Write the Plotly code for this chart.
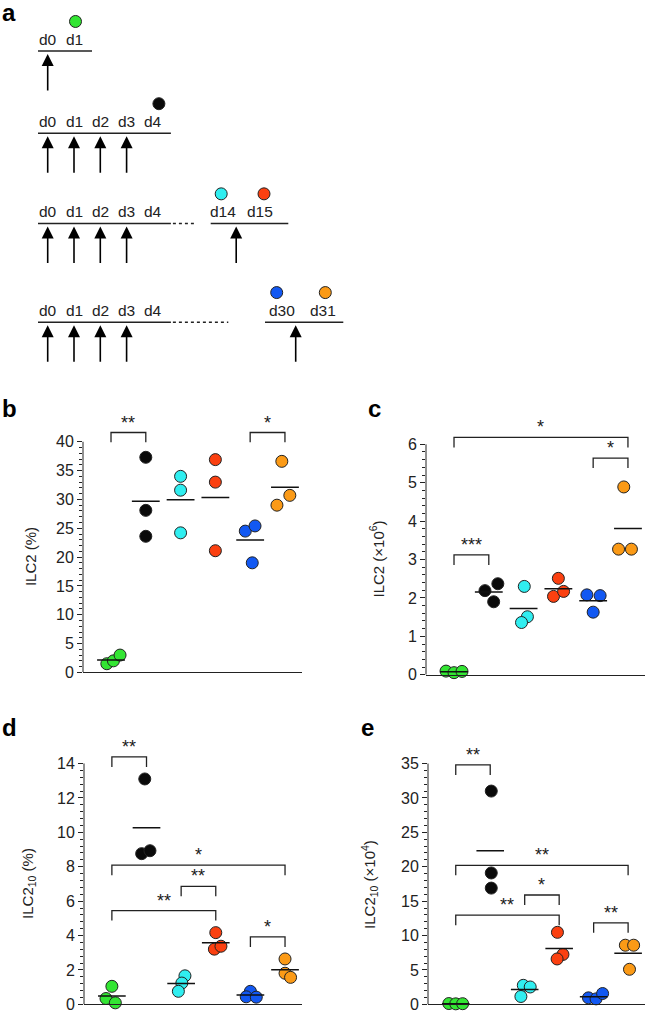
import numpy as np
import plotly.graph_objects as go

W, H = 646, 1020
FONT = "Liberation Sans, Arial, Helvetica, sans-serif"
INK = "#222222"

# ---------------- data ----------------
GROUP_NAMES = ["d1", "d4", "d14", "d15", "d30", "d31"]
GROUP_COLORS = ["#33e533", "#0a0a0a", "#30eef0", "#fb4010", "#1258f2", "#fb9a16"]

# panel b : ILC2 (%)
B_VALUES = [[1.5, 2.0, 3.0], [37.3, 28.1, 23.6], [34.0, 31.6, 24.2],
            [36.9, 33.0, 21.1], [24.5, 25.4, 19.0], [36.6, 29.0, 30.7]]
B_JITTER = [[-0.12, 0.07, 0.26], [0, 0, 0], [0, 0, 0],
            [0, 0, 0], [-0.14, 0.14, 0.06], [-0.09, -0.23, 0.14]]
B_BRACKETS = [(0, 1, 41.6, "**"), (4, 5, 41.6, "*")]

# panel c : ILC2 (x10^6)
C_VALUES = [[0.095, 0.054, 0.087], [2.19, 2.37, 1.90], [2.30, 1.51, 1.36],
            [2.51, 2.04, 2.17], [2.08, 2.06, 1.63], [4.89, 3.27, 3.27]]
C_JITTER = [[-0.23, 0, 0.23], [-0.11, 0.26, 0.14], [0.02, 0.11, -0.06],
            [0, -0.14, 0.15], [-0.18, 0.2, 0], [-0.12, -0.27, 0.1]]
C_BRACKETS = [(0, 5, 6.18, "*"), (4, 5, 5.64, "*"), (0, 1, 3.12, "***")]

# panel d : ILC2_10 (%)
D_VALUES = [[1.05, 0.34, 0.09], [13.1, 8.76, 8.93], [1.66, 1.24, 0.76],
            [4.17, 3.21, 3.38], [0.76, 0.44, 0.42], [2.64, 1.81, 1.57]]
D_JITTER = [[0, -0.17, 0.1], [-0.05, -0.14, 0.1], [0.11, 0.02, -0.08],
            [0, -0.04, 0.15], [0, -0.12, 0.17], [0, 0, 0.16]]
D_BRACKETS = [(0, 1, 14.38, "**"), (0, 5, 8.09, "*"), (2, 3, 6.86, "**"),
              (0, 3, 5.45, "**"), (4, 5, 3.92, "*")]

# panel e : ILC2_10 (x10^4)
E_VALUES = [[0.12, 0.08, 0.1], [31.0, 19.1, 16.9], [2.77, 2.53, 1.15],
            [10.47, 7.26, 6.6], [0.95, 0.8, 1.58], [8.6, 8.6, 5.1]]
E_JITTER = [[-0.2, 0, 0.2], [0.03, 0.03, 0.03], [-0.04, 0.16, -0.11],
            [-0.05, 0.11, -0.06], [-0.15, 0.07, 0.26], [-0.08, 0.16, 0.04]]
E_BRACKETS = [(0, 1, 34.8, "**"), (0, 5, 20.2, "**"), (2, 3, 15.9, "*"),
              (0, 3, 12.96, "**"), (4, 5, 11.85, "**")]

# panel a : treatment schedule
SCHEME_EARLY_DAYS = [["d0", "d1"], ["d0", "d1", "d2", "d3", "d4"],
                     ["d0", "d1", "d2", "d3", "d4"], ["d0", "d1", "d2", "d3", "d4"]]
SCHEME_LATE_DAYS = [[], [], ["d14", "d15"], ["d30", "d31"]]
SCHEME_DOSE_DAYS = [["d0"], ["d0", "d1", "d2", "d3"],
                    ["d0", "d1", "d2", "d3", "d14"], ["d0", "d1", "d2", "d3", "d30"]]
SCHEME_READOUT = [[("d1", 0)], [("d4", 1)], [("d14", 2), ("d15", 3)], [("d30", 4), ("d31", 5)]]

# ---------------- layout constants ----------------
ROW_LINE_Y = [47.7, 131, 222.3, 322.3]
READOUT_DX = [[1.5], [6.0], [-1.5, 4.0], [-5.0, 2.0]]
EARLY_START, EARLY_FIRST, EARLY_STEP = 38, 47.7, 26.3
LATE_LAYOUT = [None, None,
               dict(dot_end=194.3, start=210.7, first=222.7, step=37.3, end=288.3, dose_off=13.5),
               dict(dot_end=228.3, start=265.0, first=281.7, step=41.6, end=343.3, dose_off=14.0)]

fig = go.Figure()
shapes, annots = [], []

# ---------- panel a on a pixel-scaled overlay axis ----------
AH = 375
fig.update_layout(
    xaxis5=dict(domain=[0, 1], range=[0, W], visible=False, fixedrange=True),
    yaxis5=dict(domain=[(H - AH) / H, 1], range=[AH, 0], visible=False, fixedrange=True),
)
dot_x, dot_y, dot_c = [], [], []
head_x, head_y = [], []
for r, ly in enumerate(ROW_LINE_Y):
    pos = {}
    for k, d in enumerate(SCHEME_EARLY_DAYS[r]):
        pos[d] = EARLY_FIRST + EARLY_STEP * k
    early_end = pos[SCHEME_EARLY_DAYS[r][-1]] + 18
    shapes.append(dict(type="line", xref="x5", yref="y5", x0=EARLY_START, x1=early_end,
                       y0=ly, y1=ly, line=dict(color=INK, width=1.5)))
    lay = LATE_LAYOUT[r]
    if lay:
        for k, d in enumerate(SCHEME_LATE_DAYS[r]):
            pos[d] = lay["first"] + lay["step"] * k
        shapes.append(dict(type="line", xref="x5", yref="y5", x0=early_end + 2, x1=lay["dot_end"],
                           y0=ly, y1=ly, line=dict(color=INK, width=1.5, dash="dot")))
        shapes.append(dict(type="line", xref="x5", yref="y5", x0=lay["start"], x1=lay["end"],
                           y0=ly, y1=ly, line=dict(color=INK, width=1.5)))
    for d, xx in pos.items():
        annots.append(dict(x=xx, y=ly - 1.5, xref="x5", yref="y5", text=d, showarrow=False,
                           xanchor="center", yanchor="bottom",
                           font=dict(size=15.5, color=INK, family=FONT)))
    for d in SCHEME_DOSE_DAYS[r]:
        xx = pos[d]
        if lay and d == SCHEME_LATE_DAYS[r][0]:
            xx = xx + lay["dose_off"]
        head_x.append(xx)
        head_y.append(ly + 3)
        shapes.append(dict(type="line", xref="x5", yref="y5", x0=xx, x1=xx,
                           y0=ly + 12, y1=ly + 40, line=dict(color="black", width=1.6)))
    for (d, g), dx in zip(SCHEME_READOUT[r], READOUT_DX[r]):
        dot_x.append(pos[d] + dx)
        dot_y.append(ly - 30)
        dot_c.append(GROUP_COLORS[g])

fig.add_trace(go.Scatter(x=head_x, y=head_y, xaxis="x5", yaxis="y5", mode="markers",
                         marker=dict(symbol="arrow-up", size=12, color="black",
                                     line=dict(width=0)),
                         hoverinfo="skip", cliponaxis=False))
fig.add_trace(go.Scatter(x=dot_x, y=dot_y, xaxis="x5", yaxis="y5", mode="markers",
                         marker=dict(size=12, color=dot_c, line=dict(color=INK, width=1)),
                         hoverinfo="skip", cliponaxis=False))

# ---------- scatter panels ----------
PANELS = [
    dict(letter="b", lx=0, lbase=419, xa="x", ya="y", values=B_VALUES, jitter=B_JITTER,
         brackets=B_BRACKETS, x_px=(83, 302), y0_px=677, ppu=5.84, ymax=43,
         major=np.arange(0, 41, 5), minor=np.arange(0, 40.01, 1), top=40, leg=1.7,
         title="ILC2 (%)", title_x=30),
    dict(letter="c", lx=366, lbase=419, xa="x2", ya="y2", values=C_VALUES, jitter=C_JITTER,
         brackets=C_BRACKETS, x_px=(426, 645), y0_px=679.4, ppu=38.9, ymax=6.3,
         major=np.arange(0, 7, 1), minor=np.arange(0, 6.01, 0.2), top=6, leg=0.26,
         title="ILC2 (×10<sup>6</sup>)", title_x=377),
    dict(letter="d", lx=0, lbase=743, xa="x3", ya="y3", values=D_VALUES, jitter=D_JITTER,
         brackets=D_BRACKETS, x_px=(84, 302), y0_px=1013.3, ppu=17.43, ymax=14.6,
         major=np.arange(0, 15, 2), minor=np.arange(0, 14.01, 0.4), top=14, leg=0.58,
         title="ILC2<sub>10</sub> (%)", title_x=29),
    dict(letter="e", lx=359, lbase=743, xa="x4", ya="y4", values=E_VALUES, jitter=E_JITTER,
         brackets=E_BRACKETS, x_px=(428, 645), y0_px=1013.3, ppu=6.97, ymax=35.6,
         major=np.arange(0, 36, 5), minor=np.arange(0, 35.01, 1), top=35, leg=1.45,
         title="ILC2<sub>10</sub> (×10<sup>4</sup>)", title_x=370),
]

XR = [-0.805, 5.49]
annots.append(dict(text="<b>a</b>", x=0, y=1 - 24 / H, xref="paper", yref="paper",
                   xanchor="left", yanchor="bottom", showarrow=False,
                   font=dict(size=24, family=FONT, color="black")))

for p in PANELS:
    xa, ya = p["xa"], p["ya"]
    top_px = p["y0_px"] - p["ymax"] * p["ppu"]
    xkey = "xaxis" + xa[1:]
    ykey = "yaxis" + ya[1:]
    fig.update_layout(**{
        xkey: dict(domain=[p["x_px"][0] / W, p["x_px"][1] / W], range=XR, anchor=ya,
                   showline=True, linecolor=INK, linewidth=1, showgrid=False, zeroline=False,
                   showticklabels=False, ticks="", fixedrange=True),
        ykey: dict(domain=[(H - p["y0_px"]) / H, (H - top_px) / H], range=[0, p["ymax"]],
                   anchor=xa, showline=False, showgrid=False, zeroline=False,
                   tickmode="array", tickvals=list(p["major"]), ticks="outside",
                   ticklen=5, tickwidth=1, tickcolor=INK,
                   tickfont=dict(size=16, family=FONT, color=INK),
                   minor=dict(tickmode="array", tickvals=list(p["minor"]), ticks="outside",
                              ticklen=3, tickwidth=1, tickcolor=INK),
                   fixedrange=True),
    })
    # y axis line only up to the top tick
    shapes.append(dict(type="line", xref=f"{xa} domain", yref=ya, x0=0, x1=0,
                       y0=0, y1=p["top"], line=dict(color=INK, width=1)))
    for g, (vals, jit) in enumerate(zip(p["values"], p["jitter"])):
        xs = [g + j for j in jit]
        fig.add_trace(go.Scatter(x=xs, y=vals, xaxis=xa, yaxis=ya, mode="markers",
                                 marker=dict(size=12, color=GROUP_COLORS[g],
                                             line=dict(color=INK, width=1)),
                                 name=GROUP_NAMES[g], cliponaxis=False))
        m = float(np.mean(vals))
        shapes.append(dict(type="line", xref=xa, yref=ya, x0=g - 0.4, x1=g + 0.4,
                           y0=m, y1=m, line=dict(color="#111111", width=1.5)))
    for g0, g1, yt, lab in p["brackets"]:
        yb = yt - p["leg"]
        shapes.append(dict(type="path", xref=xa, yref=ya,
                           path=f"M {g0},{yb} L {g0},{yt} L {g1},{yt} L {g1},{yb}",
                           line=dict(color=INK, width=1.3)))
        annots.append(dict(text=lab, x=(g0 + g1) / 2, y=yt, xref=xa, yref=ya,
                           xanchor="center", yanchor="bottom", showarrow=False, yshift=-2,
                           font=dict(size=18, family=FONT, color="#1a1a1a")))
    annots.append(dict(text=p["title"], x=p["title_x"] / W, xref="paper",
                       y=p["top"] / 2, yref=ya, textangle=-90, showarrow=False,
                       xanchor="center", yanchor="middle",
                       font=dict(size=15, family=FONT, color=INK)))
    annots.append(dict(text=f"<b>{p['letter']}</b>", x=p["lx"] / W,
                       y=(H - p["lbase"] - 6) / H, xref="paper", yref="paper",
                       xanchor="left", yanchor="bottom", showarrow=False,
                       font=dict(size=24, family=FONT, color="black")))

fig.update_layout(width=W, height=H, margin=dict(l=0, r=0, t=0, b=0),
                  paper_bgcolor="white", plot_bgcolor="rgba(0,0,0,0)",
                  showlegend=False, shapes=shapes, annotations=annots,
                  font=dict(family=FONT, color=INK))

fig.write_html("out.html", config={"displayModeBar": False},
               post_script="document.body.style.margin='0';")
